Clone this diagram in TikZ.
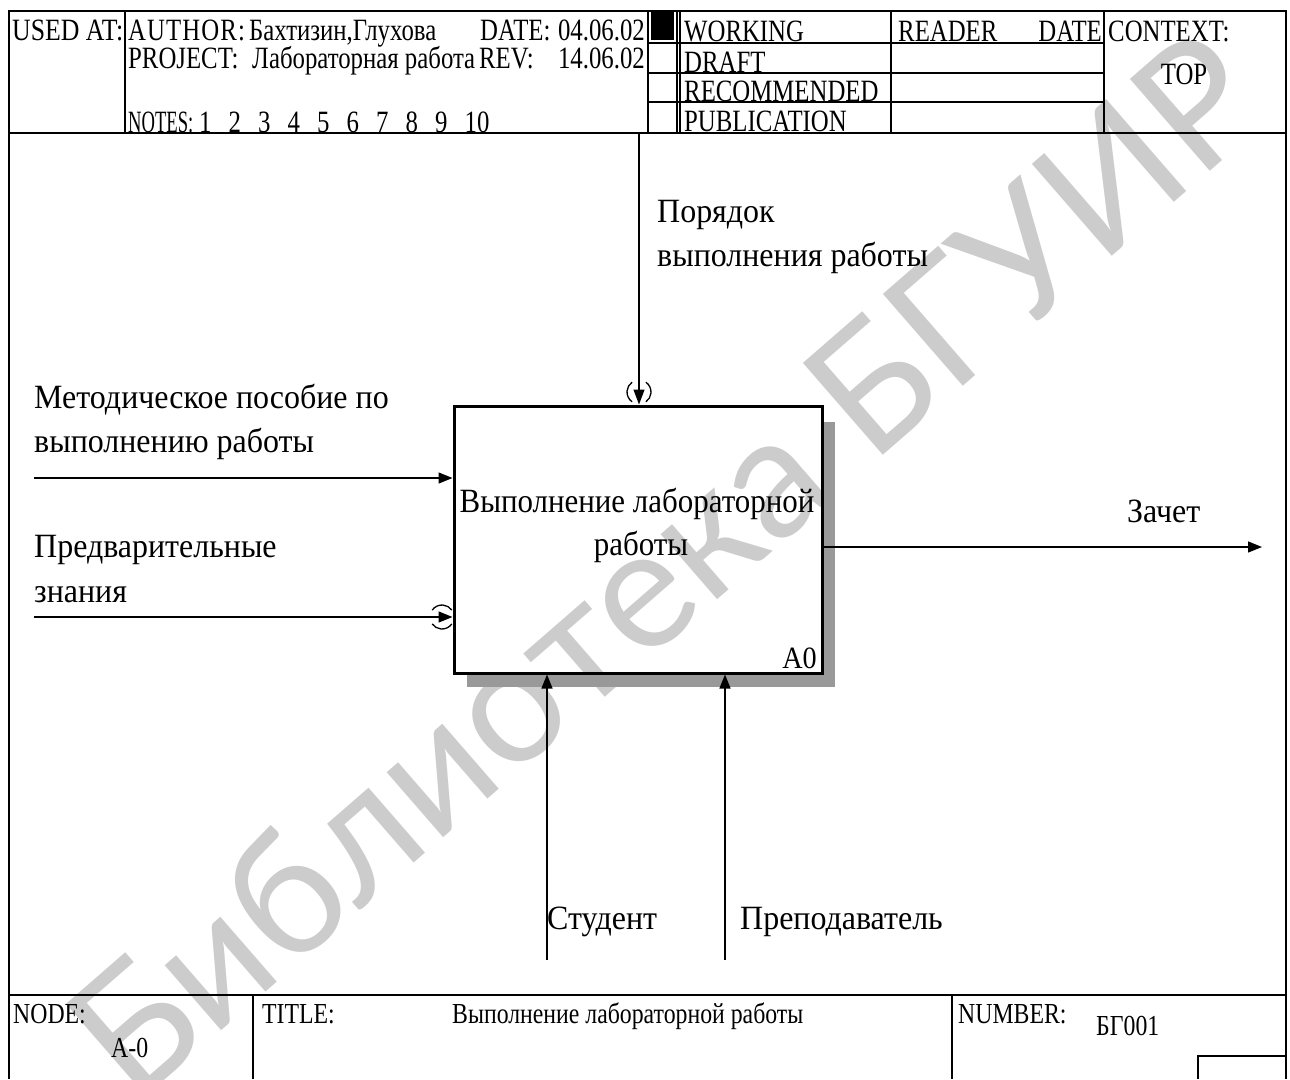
\documentclass[tikz,border=0pt]{standalone}
\usepackage{fontspec}
\setmainfont{Liberation Serif}
\newfontfamily\hdf{Liberation Serif}[FakeStretch=0.80]
\newfontfamily\hdw{Liberation Serif}[FakeStretch=0.80, LetterSpace=3.5]
\newfontfamily\lbf{Liberation Serif}[FakeStretch=0.94]
\newfontfamily\bxf{Liberation Serif}[FakeStretch=0.91]
\newfontfamily\ftf{Liberation Serif}[FakeStretch=0.82]
\newfontfamily\wmf{Lato}
\usetikzlibrary{arrows.meta}
\begin{document}
\begin{tikzpicture}[x=1pt,y=-1pt,
  hd/.style={font=\hdf\fontsize{31}{36}\selectfont, inner sep=0pt, anchor=base west},
  lb/.style={font=\lbf\fontsize{34}{40}\selectfont, inner sep=0pt, anchor=base west},
  bx/.style={font=\bxf\fontsize{34}{40}\selectfont, inner sep=0pt, anchor=base},
  ft/.style={font=\ftf\fontsize{29}{34}\selectfont, inner sep=0pt, anchor=base west},
  frame/.style={line width=1.6pt},
  thin/.style={line width=1.2pt},
  arr/.style={line width=1.3pt, -{Triangle[length=14pt,width=11pt]}},
  tun/.style={line width=1.3pt},
  shadow/.style={fill=black!40, draw=none},
  actbox/.style={draw, line width=3pt, minimum width=368pt, minimum height=267pt, inner sep=0pt}
]
\clip (0,0) rectangle (1290,1079);
\fill[white] (0,0) rectangle (1290,1079);

% watermark
\node[font=\wmf\fontsize{170}{172}\selectfont, text=black!20, rotate=41, inner sep=0pt] (wm) at (665,565) {Библиотека БГУИР};

% ---------- header ----------
\draw[frame] (9,11) rectangle (1286,133);
\draw[frame] (125,11) -- (125,133);
\draw[frame] (648,11) -- (648,133);
\draw[thin] (677,11) -- (677,133);
\draw[thin] (680,11) -- (680,133);
\draw[frame] (891,11) -- (891,133);
\draw[frame] (1104,11) -- (1104,133);
\draw[thin] (648,43) -- (1104,43);
\draw[thin] (648,73) -- (1104,73);
\draw[thin] (648,102) -- (1104,102);
\fill[black] (651,11) rectangle (674,40);

\node[hd] (usedat) at (12,40) {\scalebox{1.04}[1]{USED AT:}};
\node[hd, font=\hdw\fontsize{31}{36}\selectfont] (author) at (128,40) {AUTHOR:};
\node[hd] (authorv) at (249,40) {Бахтизин,Глухова};
\node[hd] (date) at (480,40) {DATE:};
\node[hd, anchor=base east] (datev) at (645,40) {04.06.02};
\node[hd] (project) at (128,68) {PROJECT:};
\node[hd] (projectv) at (252,68) {Лабораторная работа};
\node[hd] (rev) at (479,68) {REV:};
\node[hd, anchor=base east] (revv) at (645,68) {14.06.02};
\node[hd] (notes) at (128,132) {\scalebox{0.75}[1]{NOTES:}};
\foreach \i in {1,...,10} {
  \node[hd] (n\i) at ({199+(\i-1)*29.5},132) {\i};
}
\node[hd] (working) at (684,41) {WORKING};
\node[hd] (draft) at (684,72) {DRAFT};
\node[hd] (recommended) at (684,101) {RECOMMENDED};
\node[hd] (publication) at (684,131) {PUBLICATION};
\node[hd] (reader) at (898,41) {READER};
\node[hd, anchor=base east] (rdate) at (1102,41) {DATE};
\node[hd] (context) at (1108,41) {CONTEXT:};
\node[hd, anchor=base] (top) at (1184,84) {TOP};

% ---------- main frame ----------
\draw[frame] (9,133) -- (9,995);
\draw[frame] (1286,133) -- (1286,995);

% ---------- activity box ----------
\fill[shadow] (822,422) rectangle (835,687);
\fill[shadow] (467,673) rectangle (835,687);
\node[actbox] (box) at (638,539.5) {};
\node[bx] (bt1) at (637,512) {Выполнение лабораторной};
\node[bx] (bt2) at (641,555) {работы};
\node[bx, anchor=base east, font=\bxf\fontsize{31}{36}\selectfont] (a0) at (817,668) {A0};

% ---------- arrows ----------
\coordinate (ctl) at (639,133);
\coordinate (in1) at (34,478);
\coordinate (in2) at (34,617);
\coordinate (out) at (1262,547);
\coordinate (m1) at (547,960);
\coordinate (m2) at (725,960);

\draw[arr, -{Triangle[length=15pt,width=11pt]}] (ctl) -- (ctl |- box.north);
\draw[arr] (in1) -- (in1 -| box.west);
\draw[arr] (in2) -- (in2 -| box.west);
\draw[arr] (out -| box.east) -- (out);
\draw[arr] (m1) -- (m1 |- box.south);
\draw[arr] (m2) -- (m2 |- box.south);

% tunnels
\coordinate (tc) at (639,392);
\draw[tun] ([shift={(125:12)}]tc) arc[start angle=125, end angle=235, radius=12];
\draw[tun] ([shift={(-55:12)}]tc) arc[start angle=-55, end angle=55, radius=12];
\coordinate (ti) at (442,617);
\draw[tun] ([shift={(215:12)}]ti) arc[start angle=215, end angle=325, radius=12];
\draw[tun] ([shift={(35:12)}]ti) arc[start angle=35, end angle=145, radius=12];

% ---------- labels ----------
\node[lb] (c1) at (657,222) {Порядок};
\node[lb] (c2) at (657,266) {выполнения работы};
\node[lb] (i11) at (34,408) {Методическое пособие по};
\node[lb] (i12) at (34,452) {выполнению работы};
\node[lb] (i21) at (34,557) {Предварительные};
\node[lb] (i22) at (34,602) {знания};
\node[lb] (o1) at (1127,522) {Зачет};
\node[lb] (mm1) at (547,929) {Студент};
\node[lb] (mm2) at (740,929) {Преподаватель};

% ---------- footer ----------
\draw[frame] (9,995) -- (1286,995);
\draw[frame] (9,995) -- (9,1079);
\draw[frame] (1286,995) -- (1286,1079);
\draw[frame] (253,995) -- (253,1079);
\draw[frame] (952,995) -- (952,1079);
\draw[thin] (1198,1079) -- (1198,1056) -- (1286,1056);

\node[ft] (node) at (13,1023) {NODE:};
\node[ft] (nodev) at (111,1057) {A-0};
\node[ft] (title) at (262,1023) {TITLE:};
\node[ft] (titlev) at (452,1023) {Выполнение лабораторной работы};
\node[ft] (number) at (958,1023) {NUMBER:};
\node[ft] (numberv) at (1096,1035) {БГ001};
\end{tikzpicture}
\end{document}
